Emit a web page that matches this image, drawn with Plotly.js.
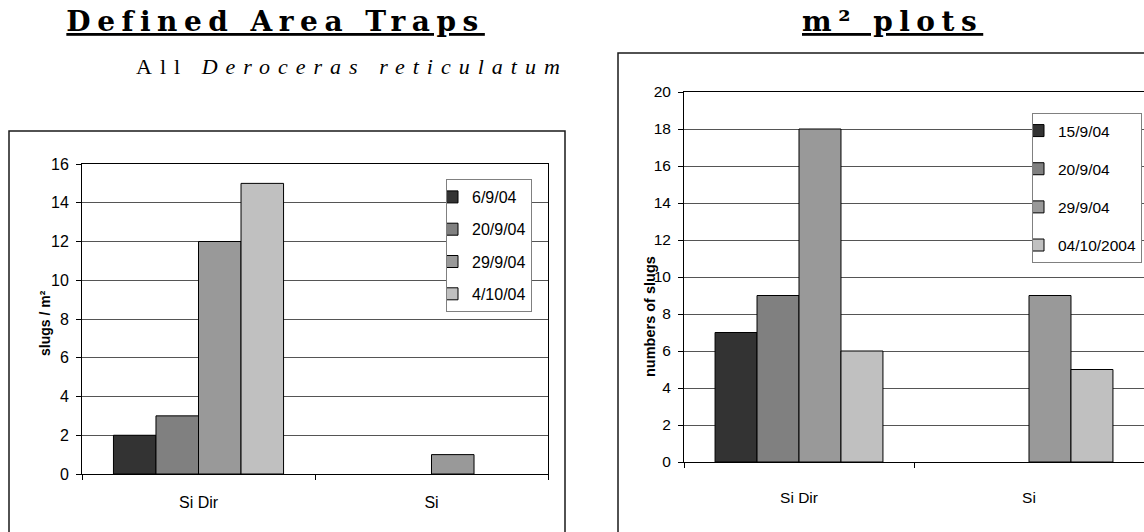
<!DOCTYPE html>
<html>
<head>
<meta charset="utf-8">
<script src="https://cdn.plot.ly/plotly-3.0.1.min.js"></script>
<style>
  html, body { margin: 0; padding: 0; background: #fff; overflow: hidden; }
  #chart { width: 1144px; height: 532px; }
  /* wide-set headings with a heavy underline */
  g.annotation[data-index="0"] text,
  g.annotation[data-index="2"] text {
    letter-spacing: 6.5px;
    text-decoration: underline !important;
    text-decoration-thickness: 2.5px !important;
    text-underline-offset: 4px !important;
  }
  g.annotation[data-index="1"] text { letter-spacing: 8px; }
</style>
</head>
<body>
<div id="chart"></div>
<script>
// Sites
const categories = ['Si Dir', 'Si'];

// Defined area traps: slugs per m² on each sampling date
const trapDates = ['6/9/04', '20/9/04', '29/9/04', '4/10/04'];
const trap0609 = [2, 0];
const trap2009 = [3, 0];
const trap2909 = [12, 1];
const trap0410 = [15, 0];

// m² plots: number of slugs on each sampling date
const plotDates = ['15/9/04', '20/9/04', '29/9/04', '04/10/2004'];
const plot1509 = [7, 0];
const plot2009 = [9, 0];
const plot2909 = [18, 9];
const plot0410 = [6, 5];

const barGreys = ['#333333', '#808080', '#999999', '#C0C0C0'];

const W = 1144, H = 532;
const px = v => v / W;          // horizontal pixel -> paper
const py = v => (H - v) / H;    // vertical pixel (from top) -> paper

const sansFont = 'Liberation Sans, Arial, sans-serif';

const trapValues = [trap0609, trap2009, trap2909, trap0410];
const plotValues = [plot1509, plot2009, plot2909, plot0410];

// empty (zero) bars get no outline so nothing is drawn for them
const outlineWidths = vals => vals.map(v => (v === 0 ? 0 : 1));

const traces = [];
trapValues.forEach((vals, i) => {
  traces.push({
    type: 'bar', x: categories, y: vals, name: trapDates[i],
    xaxis: 'x', yaxis: 'y', legend: 'legend', legendgroup: 't' + i,
    marker: { color: barGreys[i], line: { color: '#000', width: outlineWidths(vals) } },
    hoverinfo: 'x+y+name'
  });
});
plotValues.forEach((vals, i) => {
  traces.push({
    type: 'bar', x: categories, y: vals, name: plotDates[i],
    xaxis: 'x2', yaxis: 'y2', legend: 'legend2', legendgroup: 'p' + i,
    marker: { color: barGreys[i], line: { color: '#000', width: outlineWidths(vals) } },
    hoverinfo: 'x+y+name'
  });
});

const xCommon = {
  type: 'category', showline: true, linecolor: '#000', linewidth: 1, mirror: true,
  ticks: 'outside', tickson: 'boundaries', ticklen: 5, tickcolor: '#000',
  showgrid: false, zeroline: false, fixedrange: true
};
const yCommon = {
  showline: true, linecolor: '#000', linewidth: 1,
  ticks: 'outside', ticklen: 5, tickcolor: '#000', dtick: 2,
  showgrid: true, gridcolor: '#555555', gridwidth: 1, zeroline: false, fixedrange: true
};

const layout = {
  width: W, height: H,
  margin: { l: 0, r: 0, t: 0, b: 0 },
  paper_bgcolor: '#fff', plot_bgcolor: 'rgba(0,0,0,0)',
  barmode: 'group', bargap: 0.27, bargroupgap: 0,
  showlegend: true,
  xaxis: Object.assign({}, xCommon, {
    domain: [px(82), px(548)], anchor: 'y',
    tickfont: { family: sansFont, size: 16, color: '#000' }, ticklabelstandoff: 14
  }),
  yaxis: Object.assign({}, yCommon, {
    domain: [py(474), py(164)], anchor: 'x', range: [0, 16], mirror: true,
    tickfont: { family: sansFont, size: 16, color: '#000' }, ticklabelstandoff: 4
  }),
  xaxis2: Object.assign({}, xCommon, {
    domain: [px(684), 1], anchor: 'y2',
    tickfont: { family: sansFont, size: 15.5, color: '#000' }, ticklabelstandoff: 21
  }),
  yaxis2: Object.assign({}, yCommon, {
    domain: [py(462), py(92)], anchor: 'x2', range: [0, 20], mirror: false,
    tickfont: { family: sansFont, size: 15.5, color: '#000' }, ticklabelstandoff: 4
  }),
  legend: {
    x: px(532), xanchor: 'right', y: py(179), yanchor: 'top',
    bgcolor: '#fff', bordercolor: '#808080', borderwidth: 1,
    font: { family: sansFont, size: 16, color: '#000' },
    traceorder: 'grouped', tracegroupgap: 8.5, indentation: -15
  },
  legend2: {
    x: px(1142), xanchor: 'right', y: py(113), yanchor: 'top',
    bgcolor: '#fff', bordercolor: '#808080', borderwidth: 1,
    font: { family: sansFont, size: 15.5, color: '#000' },
    traceorder: 'grouped', tracegroupgap: 15, indentation: -15
  },
  shapes: [
    { type: 'rect', xref: 'paper', yref: 'paper', x0: px(9), x1: px(565), y0: -0.1, y1: py(131),
      line: { color: '#1a1a1a', width: 1.5 }, fillcolor: 'rgba(0,0,0,0)' },
    { type: 'rect', xref: 'paper', yref: 'paper', x0: px(618), x1: 1.1, y0: -0.1, y1: py(53),
      line: { color: '#1a1a1a', width: 1.5 }, fillcolor: 'rgba(0,0,0,0)' }
  ],
  annotations: [
    { text: 'Defined Area Traps', xref: 'paper', yref: 'paper', x: px(275), y: py(22),
      xanchor: 'center', yanchor: 'middle', showarrow: false,
      font: { family: 'DejaVu Serif', size: 28, weight: 700, color: '#000' } },
    { text: 'All <i>Deroceras reticulatum</i>', xref: 'paper', yref: 'paper', x: px(352), y: py(67),
      xanchor: 'center', yanchor: 'middle', showarrow: false,
      font: { family: 'Liberation Serif, Times New Roman, serif', size: 22, color: '#000' } },
    { text: 'm² plots', xref: 'paper', yref: 'paper', x: px(892), y: py(22),
      xanchor: 'center', yanchor: 'middle', showarrow: false,
      font: { family: 'DejaVu Serif', size: 28, weight: 700, color: '#000' } },
    { text: '<b>slugs / m²</b>', xref: 'paper', yref: 'paper', x: px(45), y: py(323),
      xanchor: 'center', yanchor: 'middle', textangle: -90, showarrow: false,
      font: { family: sansFont, size: 14, color: '#000' } },
    { text: '<b>numbers of slugs</b>', xref: 'paper', yref: 'paper', x: px(650), y: py(317),
      xanchor: 'center', yanchor: 'middle', textangle: -90, showarrow: false,
      font: { family: sansFont, size: 14.5, color: '#000' } }
  ]
};

Plotly.newPlot('chart', traces, layout, { staticPlot: true, displayModeBar: false });
</script>
</body>
</html>
